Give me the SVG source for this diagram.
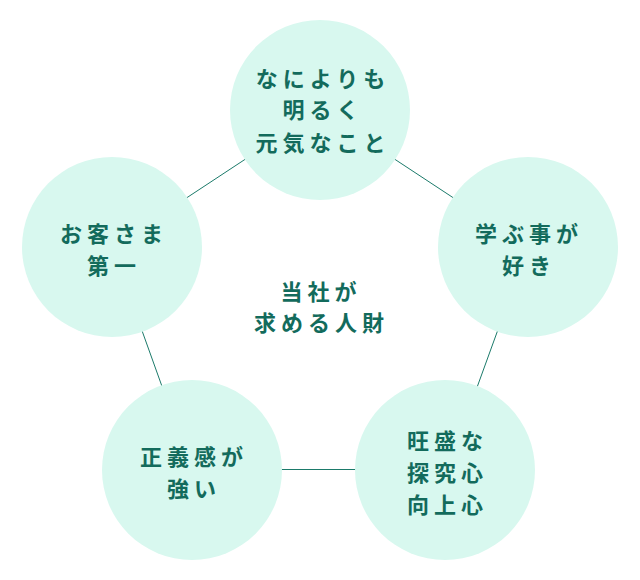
<svg xmlns="http://www.w3.org/2000/svg" width="640" height="580" viewBox="0 0 640 580">
<style>
.c{fill:#d8f8ef}
.t{font-family:"Noto Sans CJK JP","Noto Sans CJK SC",sans-serif;font-size:22px;font-weight:700;fill:#136b5c;letter-spacing:5px;text-anchor:middle;dominant-baseline:central}
.l{stroke:#1b7a6a;stroke-width:1;fill:none}
</style>
<rect width="640" height="580" fill="#ffffff"/>
<g id="connectors">
<line class="l" x1="320" y1="110" x2="112" y2="247"/>
<line class="l" x1="320" y1="110" x2="528" y2="247"/>
<line class="l" x1="112" y1="247" x2="192" y2="470"/>
<line class="l" x1="528" y1="247" x2="447" y2="470"/>
<line class="l" x1="192" y1="469.5" x2="446" y2="469.5"/>
</g>
<g id="node-top">
<circle class="c" cx="320" cy="110" r="90"/>
<text class="t" x="323" y="77">なによりも</text>
<text class="t" x="323" y="108">明るく</text>
<text class="t" x="323" y="141">元気なこと</text>
</g>
<g id="node-left">
<circle class="c" cx="112" cy="247" r="90"/>
<text class="t" x="114" y="232">お客さま</text>
<text class="t" x="114" y="264">第一</text>
</g>
<g id="node-right">
<circle class="c" cx="528" cy="247" r="90"/>
<text class="t" x="529" y="232">学ぶ事が</text>
<text class="t" x="529" y="264">好き</text>
</g>
<g id="node-bottom-left">
<circle class="c" cx="192" cy="470" r="90"/>
<text class="t" x="194" y="455">正義感が</text>
<text class="t" x="194" y="487">強い</text>
</g>
<g id="node-bottom-right">
<circle class="c" cx="445" cy="470" r="90"/>
<text class="t" x="447.5" y="439">旺盛な</text>
<text class="t" x="447.5" y="471">探究心</text>
<text class="t" x="447.5" y="503">向上心</text>
</g>
<g id="center-label">
<text class="t" x="321" y="290">当社が</text>
<text class="t" x="321.5" y="321">求める人財</text>
</g>
</svg>
